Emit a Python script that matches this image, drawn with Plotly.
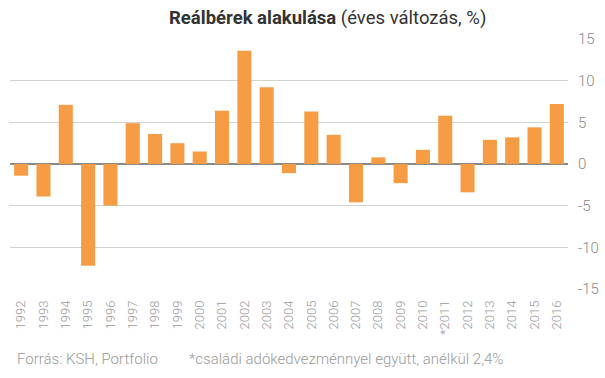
import plotly.graph_objects as go

years = ["1992", "1993", "1994", "1995", "1996", "1997", "1998", "1999", "2000",
         "2001", "2002", "2003", "2004", "2005", "2006", "2007", "2008", "2009",
         "2010", "*2011", "2012", "2013", "2014", "2015", "2016"]
values = [-1.4, -3.9, 7.1, -12.2, -5.0, 4.9, 3.6, 2.5, 1.5,
          6.4, 13.6, 9.2, -1.1, 6.3, 3.5, -4.6, 0.8, -2.3,
          1.7, 5.8, -3.4, 2.9, 3.2, 4.4, 7.2]
y_ticks = [-15, -10, -5, 0, 5, 10, 15]
y_tick_text = ["-15", "-10", "-5", "0", "5", "10", "15"]

W, H = 605, 378
ml, mr, mt, mb = 10, 37, 39, 89
pw = W - ml - mr
ph = H - mt - mb

fig = go.Figure(go.Bar(x=years, y=values, marker=dict(color="#F69C45", line=dict(width=0)),
                       hoverinfo="x+y"))

def px_x(px):
    return (px - ml) / pw

def px_y(py):
    return (H - mb - py) / ph

fig.update_layout(
    width=W, height=H,
    margin=dict(l=ml, r=mr, t=mt, b=mb, autoexpand=False),
    paper_bgcolor="white", plot_bgcolor="white",
    bargap=0.37,
    showlegend=False,
    xaxis=dict(type="category", tickangle=-90, showgrid=False, zeroline=False,
               showline=False, ticks="", automargin=False, ticklabelstandoff=8,
               tickfont=dict(family="Roboto", size=13, color="#9a9a9a", weight=300)),
    yaxis=dict(side="right", range=[-15, 15], tickvals=y_ticks, ticktext=y_tick_text,
               showgrid=True, gridcolor="#d2d2d2", gridwidth=1,
               zeroline=True, zerolinecolor="#8a8a8a", zerolinewidth=1.5,
               showline=False, ticks="", automargin=False, ticklabelstandoff=9,
               tickfont=dict(family="Roboto", size=15, color="#8a8a8a", weight=300)),
    annotations=[
        dict(text="<b>Reálbérek alakulása</b> (éves változás, %)", xref="paper", yref="paper",
             x=px_x(327), y=px_y(18), xanchor="center", yanchor="middle", showarrow=False,
             font=dict(family="Roboto", size=18.5, color="#333333")),
        dict(text="Forrás: KSH, Portfolio", xref="paper", yref="paper",
             x=px_x(15), y=px_y(359), xanchor="left", yanchor="middle", showarrow=False,
             font=dict(family="Roboto", size=15, color="#9a9a9a", weight=300)),
        dict(text="*családi adókedvezménnyel együtt, anélkül 2,4%", xref="paper", yref="paper",
             x=px_x(187), y=px_y(359), xanchor="left", yanchor="middle", showarrow=False,
             font=dict(family="Roboto", size=15, color="#9a9a9a", weight=300)),
    ],
)

fig.write_html("out.html", config={"displayModeBar": False},
               post_script="document.body.style.margin='0';document.body.style.overflow='hidden';")
